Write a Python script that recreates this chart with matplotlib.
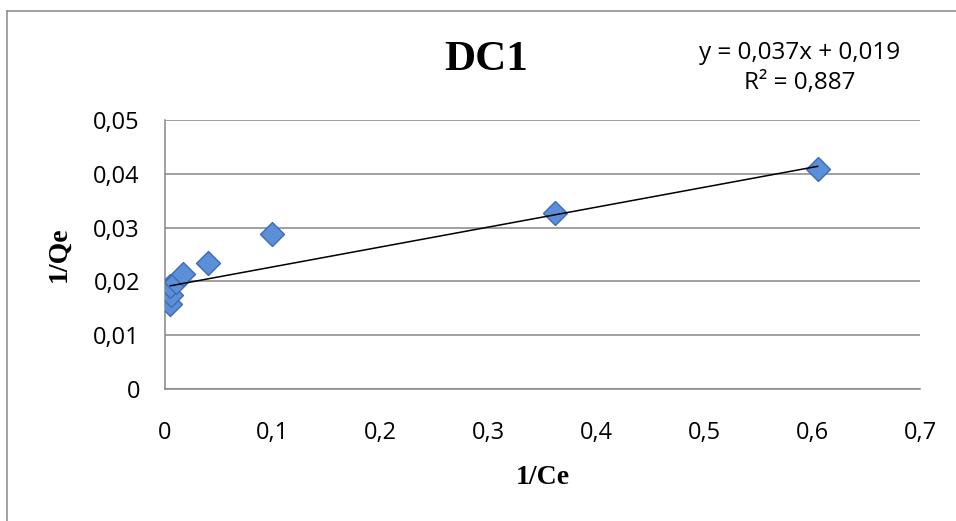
import matplotlib
matplotlib.use("Agg")
import matplotlib.pyplot as plt
from matplotlib.lines import Line2D
from matplotlib.ticker import FuncFormatter, MultipleLocator

# data (1/Ce vs 1/Qe)
inv_ce = [0.005, 0.006, 0.005, 0.010, 0.017, 0.040, 0.099, 0.362, 0.605]
inv_qe = [0.0158, 0.0175, 0.0192, 0.0198, 0.0214, 0.0234, 0.0289, 0.0328, 0.0408]
slope = 0.037
intercept = 0.019
r2 = 0.887

W, H = 956, 521
fig = plt.figure(figsize=(W / 100, H / 100), dpi=100)
ax = fig.add_axes([165 / W, 1 - 389 / H, (920 - 165) / W, (389 - 120) / H])

grid_c = "#868686"
ax.set_xlim(0, 0.7)
ax.set_ylim(0, 0.05)
ax.xaxis.set_major_locator(MultipleLocator(0.1))
ax.yaxis.set_major_locator(MultipleLocator(0.01))


def comma(v, pos):
    s = f"{v:.2f}".rstrip("0").rstrip(".")
    return s.replace(".", ",")


ax.xaxis.set_major_formatter(FuncFormatter(comma))
ax.yaxis.set_major_formatter(FuncFormatter(comma))
ax.grid(axis="y", color=grid_c, lw=1.1)
ax.set_axisbelow(True)
for s in ["top", "right"]:
    ax.spines[s].set_visible(False)
for s in ["left", "bottom"]:
    ax.spines[s].set_color(grid_c)
    ax.spines[s].set_linewidth(1.1)
ax.tick_params(length=0, labelsize=17)
ax.tick_params(axis="y", pad=18)
ax.tick_params(axis="x", pad=23)
for lab in ax.get_xticklabels() + ax.get_yticklabels():
    lab.set_fontfamily("Open Sans")

# trend line over the data range
x0, x1 = min(inv_ce), max(inv_ce)
ax.plot([x0, x1], [slope * x0 + intercept, slope * x1 + intercept],
        color="black", lw=1.1, zorder=4)
ax.plot(inv_ce, inv_qe, ls="none", marker="D", ms=12.5,
        mfc="#5b90d8", mec="#3c6cb4", mew=1.0, zorder=3)

ax.set_xlabel("1/Ce", fontfamily="Liberation Serif", fontweight="bold",
              fontsize=20, va="center", ha="center")
ax.xaxis.set_label_coords(0.5, (389 - 478) / (389 - 120))
ax.set_ylabel("1/Qe", fontfamily="Liberation Serif", fontweight="bold",
              fontsize=20, va="center", ha="center")
ax.yaxis.set_label_coords((59 - 165) / (920 - 165), 0.5)

fig.text(486 / W, 1 - 60 / H, "DC1", fontfamily="Liberation Serif",
         fontweight="bold", fontsize=31, ha="center", va="center")
fig.text(800 / W, 1 - 53 / H, f"y = {slope:.3f}x + {intercept:.3f}".replace(".", ","),
         fontfamily="Open Sans", fontsize=17.5, ha="center", va="center")
fig.text(800 / W, 1 - 83 / H, f"R² = {r2:.3f}".replace(".", ","),
         fontfamily="Open Sans", fontsize=17.5, ha="center", va="center")

# chart frame (cropped on the right and bottom)
fig.add_artist(Line2D([7 / W, 7 / W], [0, 1 - 11 / H], color="#888888", lw=1.1))
fig.add_artist(Line2D([7 / W, 1], [1 - 11 / H, 1 - 11 / H], color="#888888", lw=1.1))

fig.savefig("out.png", dpi=100)
